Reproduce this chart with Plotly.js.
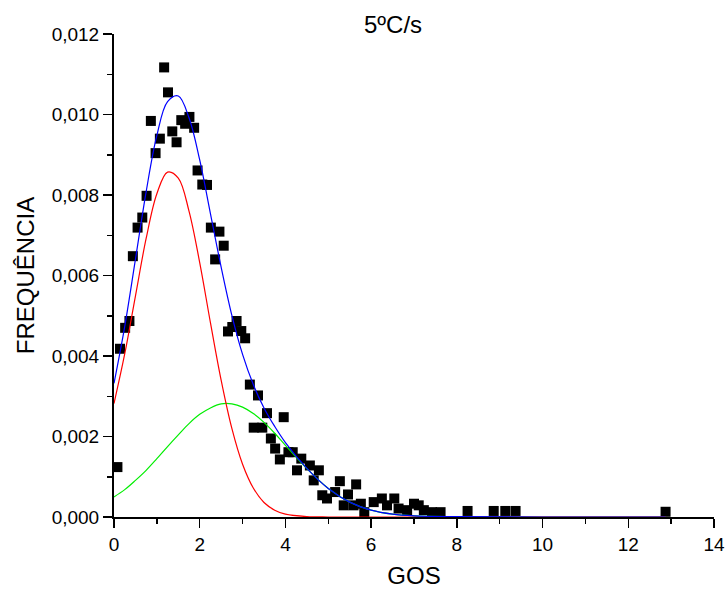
<!DOCTYPE html>
<html>
<head>
<meta charset="utf-8">
<script src="https://cdn.plot.ly/plotly-3.0.1.min.js"></script>
<style>html,body{margin:0;padding:0;background:#fff;}#chart{width:726px;height:589px;}</style>
</head>
<body>
<div id="chart"></div>
<script>
// Measured data points (GOS, frequency)
var gosX = [0.08,0.14,0.26,0.36,0.44,0.55,0.66,0.76,0.86,0.97,1.07,1.17,1.26,1.36,1.46,1.57,1.66,1.76,1.87,1.95,2.06,2.17,2.26,2.36,2.46,2.56,
  2.66,2.76,2.86,2.97,3.06,3.17,3.26,3.36,3.46,3.57,3.66,3.76,3.87,3.96,4.07,4.17,4.27,4.37,4.57,4.66,4.78,4.86,4.97,
  5.16,5.27,5.36,5.46,5.59,5.65,5.76,5.84,6.06,6.25,6.37,6.54,6.64,6.84,7.0,7.11,7.23,7.42,7.62,8.25,8.86,9.13,9.37,12.87];
var freqY = [0.00124,0.00418,0.00470,0.00487,0.00648,0.00719,0.00744,0.00798,0.00984,0.00904,0.00940,0.01117,0.01055,0.00958,0.00931,0.00986,0.00977,0.00994,0.00967,0.00861,0.00826,0.00825,0.00719,0.00640,0.00709,0.00674,
  0.00461,0.00472,0.00487,0.00462,0.00444,0.00329,0.00222,0.00302,0.00222,0.00258,0.00195,0.00170,0.00143,0.00248,0.00161,0.00161,0.00116,0.00145,0.00128,0.00091,0.00116,0.00054,0.00046,
  0.00062,0.00089,0.00029,0.00056,0.00029,0.00081,0.00033,0.00012,0.00037,0.00046,0.00029,0.00046,0.00021,0.00017,0.00033,0.00029,0.00017,0.00012,0.00012,0.00015,0.00015,0.00015,0.00015,0.00013];

// Fitted curves
var curveX = [0,0.25,0.5,0.75,1.0,1.25,1.5,1.75,2.0,2.25,2.5,2.75,3.0,3.25,3.5,3.75,4.0,4.5,5.0,5.5,6.0,6.5,7.0,8.0,10.0,12.87];
var peak1Y = [0.00282,0.00405,0.00549,0.00692,0.00803,0.00857,0.00842,0.00760,0.00632,0.00483,0.00340,0.00220,0.00131,0.00072,0.00036,0.00017,0.00007,0.00001,0,0,0,0,0,0,0,0];
var peak2Y = [0.00050,0.00068,0.00091,0.00116,0.00145,0.00175,0.00204,0.00232,0.00255,0.00271,0.00281,0.00281,0.00273,0.00257,0.00235,0.00208,0.00178,0.00120,0.00071,0.00037,0.00017,0.00007,0.00003,0.00001,0,0];
var sumY   = [0.00332,0.00473,0.00640,0.00808,0.00948,0.01032,0.01046,0.00992,0.00887,0.00754,0.00621,0.00501,0.00404,0.00329,0.00271,0.00225,0.00185,0.00121,0.00071,0.00037,0.00017,0.00007,0.00003,0.00001,0,0];

var xTicks = [0,2,4,6,8,10,12,14];
var yTicks = [0,0.002,0.004,0.006,0.008,0.010,0.012];

var FONT = '"Liberation Sans", Arial, sans-serif';

var traces = [
  {x: gosX, y: freqY, type: 'scatter', mode: 'markers', cliponaxis: false,
   marker: {symbol: 'square', size: 10, color: '#000000'}, showlegend: false},
  {x: curveX, y: peak2Y, type: 'scatter', mode: 'lines',
   line: {color: '#00ee00', width: 1.2, shape: 'spline', smoothing: 1}, showlegend: false},
  {x: curveX, y: peak1Y, type: 'scatter', mode: 'lines',
   line: {color: '#ff0000', width: 1.2, shape: 'spline', smoothing: 1}, showlegend: false},
  {x: curveX, y: sumY, type: 'scatter', mode: 'lines',
   line: {color: '#0000ff', width: 1.2, shape: 'spline', smoothing: 1}, showlegend: false}
];

var layout = {
  width: 726, height: 589,
  margin: {l: 114, r: 12, t: 34, b: 72},
  paper_bgcolor: '#ffffff', plot_bgcolor: '#ffffff',
  separators: ', ',
  font: {family: FONT, color: '#000000', size: 19},
  title: {text: '5ºC/s', font: {family: FONT, size: 24, color: '#000'},
          x: 0.465, xref: 'paper', y: 0.958, yref: 'container', xanchor: 'center', yanchor: 'middle'},
  xaxis: {
    range: [0, 14], tickvals: xTicks, ticktext: xTicks.map(String),
    showgrid: false, zeroline: false, showline: true, linecolor: '#000', linewidth: 2,
    ticks: 'outside', ticklen: 9, tickwidth: 1.5, tickcolor: '#000',
    minor: {dtick: 1, ticks: 'outside', ticklen: 5, tickwidth: 1.5, tickcolor: '#000', showgrid: false},
    tickfont: {family: FONT, size: 19},
    title: {text: 'GOS', font: {family: FONT, size: 24}, standoff: 16},
    fixedrange: true
  },
  yaxis: {
    range: [0, 0.012], tickvals: yTicks, tickformat: '.3f',
    showgrid: false, zeroline: false, showline: true, linecolor: '#000', linewidth: 2,
    ticks: 'outside', ticklen: 9, tickwidth: 1.5, tickcolor: '#000',
    minor: {dtick: 0.001, ticks: 'outside', ticklen: 5, tickwidth: 1.5, tickcolor: '#000', showgrid: false},
    tickfont: {family: FONT, size: 19},
    title: {text: 'FREQUÊNCIA', font: {family: FONT, size: 24}, standoff: 10},
    fixedrange: true
  }
};

Plotly.newPlot('chart', traces, layout, {staticPlot: true, displayModeBar: false});
</script>
</body>
</html>
